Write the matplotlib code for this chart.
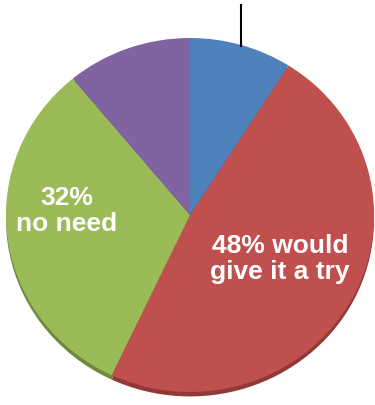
import matplotlib
matplotlib.use('Agg')
import matplotlib.pyplot as plt
from matplotlib.lines import Line2D

# slices, clockwise from 12 o'clock
labels = ['other', '48% would\ngive it a try', '32%\nno need', 'unsure']
shares = [9, 48, 32, 11]
colors = ['#4f81bd', '#c0504d', '#9bbb59', '#8064a2']
shadow = ['#3a6394', '#8f3a38', '#6f8a3e', '#5e4a7a']

W, H = 375, 406
fig = plt.figure(figsize=(W / 100, H / 100), dpi=100)
ax = fig.add_axes([0, 0, 1, 1])

# pie centre and radii in pixels (slightly squashed ellipse)
cx, cy, rx, ry = 190, 216, 184, 177
ax.axis('off')

# darker copy a bit lower gives the thin 3d rim at the bottom
ax.pie(shares, colors=shadow, startangle=90, counterclock=False,
       center=(0, -0.025), radius=1.0, wedgeprops=dict(linewidth=0))
ax.pie(shares, colors=colors, startangle=90, counterclock=False,
       radius=1.0, wedgeprops=dict(linewidth=0))
ax.set_xlim((0 - cx) / rx, (W - cx) / rx)
ax.set_ylim((cy - H) / ry, (cy - 0) / ry)
ax.set_aspect('auto')

font = dict(color='white', fontsize=19, fontweight='bold',
            family=['Liberation Sans', 'DejaVu Sans'], ha='center', va='center',
            linespacing=1.1)
fig.text(67 / W, 1 - 211 / H, labels[2], **font)
fig.text(280 / W, 1 - 259 / H, labels[1], **font)

# leader line at the top
fig.add_artist(Line2D([241 / W, 241 / W], [1 - 6 / H, 1 - 47 / H],
                      color='black', linewidth=1.5))

fig.savefig('out.png', dpi=100, facecolor='white')
